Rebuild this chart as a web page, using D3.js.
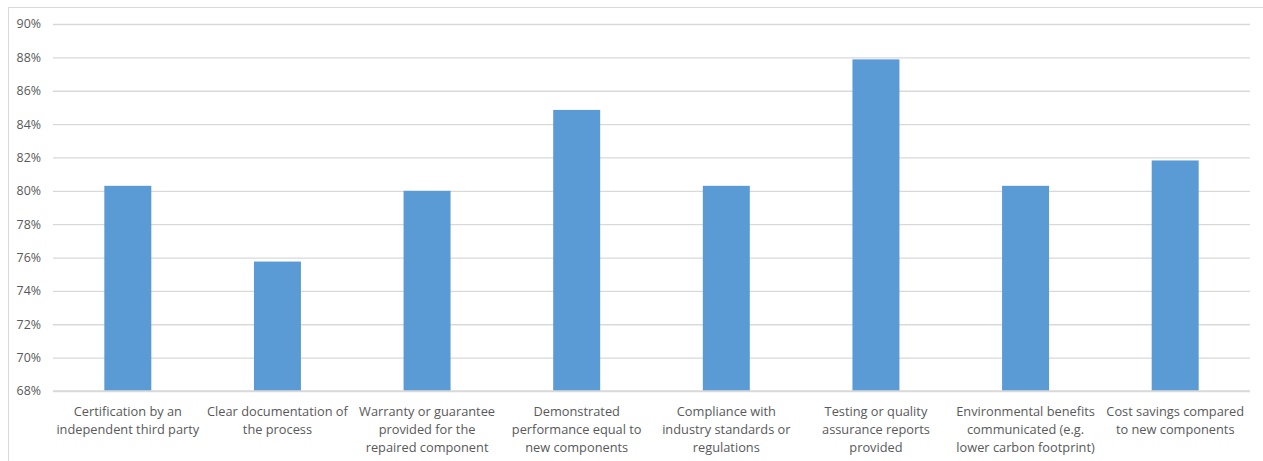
<!DOCTYPE html>
<html>
<head>
<meta charset="utf-8">
<script src="https://cdn.jsdelivr.net/npm/d3@7"></script>
<style>
  html, body { margin: 0; padding: 0; background: #fff; }
  svg { display: block; }
  text { font-family: "Open Sans", "Noto Sans", sans-serif; fill: #595959; }
</style>
</head>
<body>
<svg id="chart" width="1263" height="461"></svg>
<script>
// Share of respondents citing each factor as important for trusting repaired components
const categories = [
  "Certification by an\nindependent third party",
  "Clear documentation of\nthe process",
  "Warranty or guarantee\nprovided for the\nrepaired component",
  "Demonstrated\nperformance equal to\nnew components",
  "Compliance with\nindustry standards or\nregulations",
  "Testing or quality\nassurance reports\nprovided",
  "Environmental benefits\ncommunicated (e.g.\nlower carbon footprint)",
  "Cost savings compared\nto new components"
];
const values = [0.803, 0.7576, 0.800, 0.8485, 0.803, 0.8788, 0.803, 0.8182];
const yTicks = [0.68, 0.70, 0.72, 0.74, 0.76, 0.78, 0.80, 0.82, 0.84, 0.86, 0.88, 0.90];

const svg = d3.select("#chart");
const W = 1263, H = 461;
const margin = { left: 53, right: 13, top: 24, bottom: 70 };

// Chart frame
svg.append("rect")
  .attr("x", 8.5).attr("y", 7.5)
  .attr("width", W + 20).attr("height", H + 20)
  .attr("fill", "none").attr("stroke", "#d9d9d9").attr("stroke-width", 1);

const x = d3.scaleBand()
  .domain(categories)
  .range([margin.left, W - margin.right])
  .paddingInner(0.686)
  .paddingOuter(0.343);

const y = d3.scaleLinear()
  .domain([0.68, 0.90])
  .range([391, margin.top]);

// Horizontal gridlines and percent labels
const yAxis = d3.axisLeft(y)
  .tickValues(yTicks)
  .tickFormat(d3.format(".0%"))
  .tickSize(-(W - margin.right - margin.left))
  .tickPadding(12);

const gy = svg.append("g")
  .attr("transform", `translate(${margin.left},0)`)
  .call(yAxis);
gy.select(".domain").remove();
gy.selectAll(".tick line").attr("stroke", "#d9d9d9").attr("stroke-width", 1.3);
gy.selectAll(".tick text")
  .attr("font-size", 12.4)
  .style("fill", "#595959")
  .attr("font-family", "'Open Sans', 'Noto Sans', sans-serif");

// Bars
svg.append("g")
  .selectAll("rect")
  .data(values)
  .join("rect")
  .attr("x", (d, i) => x(categories[i]))
  .attr("width", x.bandwidth())
  .attr("y", d => y(d))
  .attr("height", d => y(0.68) - y(d))
  .attr("fill", "#5b9bd5");

// Baseline redrawn over bar bottoms
svg.append("line")
  .attr("x1", margin.left).attr("x2", W - margin.right)
  .attr("y1", y(0.68)).attr("y2", y(0.68))
  .attr("stroke", "#d9d9d9").attr("stroke-width", 1.3);

// Category labels (multi-line, centred under each bar)
const labels = svg.append("g")
  .selectAll("text")
  .data(categories)
  .join("text")
  .attr("text-anchor", "middle")
  .attr("font-size", 12.8)
  .attr("transform", d => `translate(${x(d) + x.bandwidth() / 2},415.5)`);

labels.selectAll("tspan")
  .data(d => d.split("\n"))
  .join("tspan")
  .attr("x", 0)
  .attr("y", (d, i) => i * 18)
  .text(d => d);
</script>
</body>
</html>
